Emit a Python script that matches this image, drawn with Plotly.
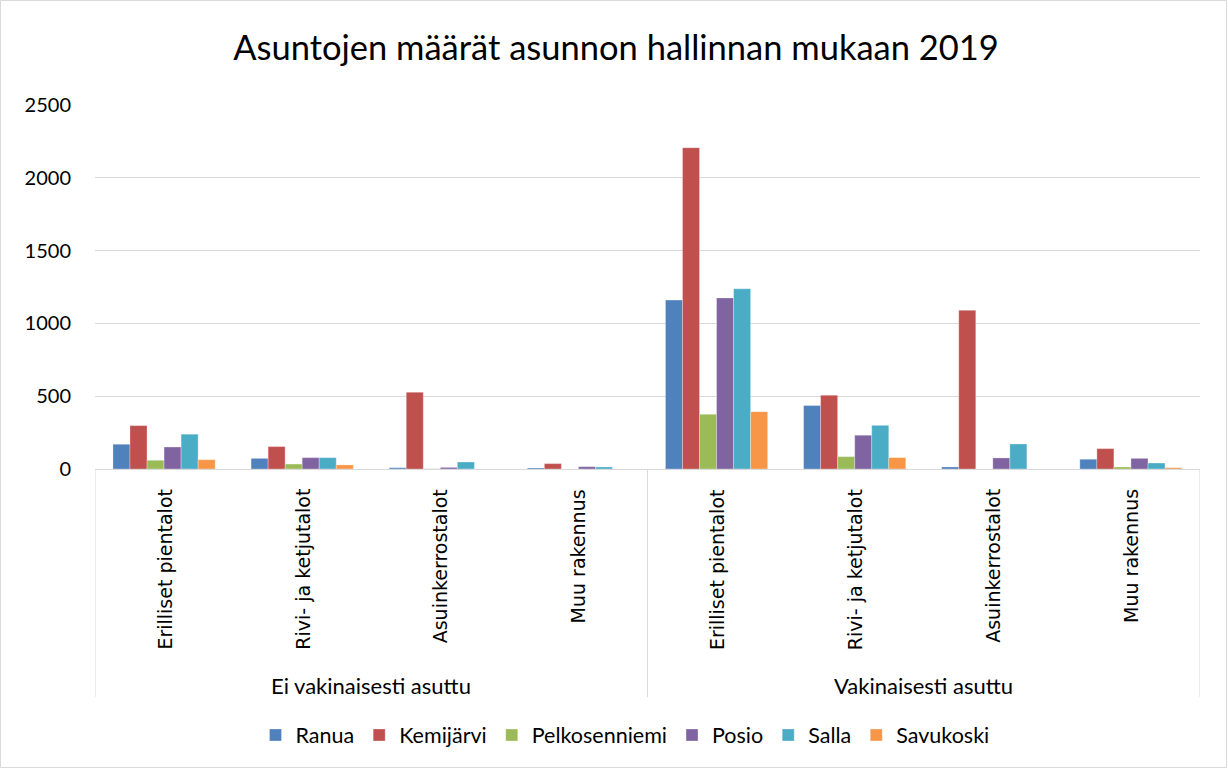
import plotly.graph_objects as go

groups = ["Ei vakinaisesti asuttu", "Vakinaisesti asuttu"]
building_types = ["Erilliset pientalot", "Rivi- ja ketjutalot", "Asuinkerrostalot", "Muu rakennus"]

ranua = [170, 73, 9, 7, 1160, 436, 14, 67]
kemijarvi = [298, 154, 527, 37, 2207, 507, 1090, 140]
pelkosenniemi = [60, 34, 2, 0, 376, 85, 0, 14]
posio = [151, 78, 11, 16, 1175, 232, 76, 73]
salla = [239, 78, 48, 14, 1238, 300, 172, 41]
savukoski = [64, 28, 0, 0, 394, 78, 0, 9]

series_names = ["Ranua", "Kemijärvi", "Pelkosenniemi", "Posio", "Salla", "Savukoski"]
series_values = [ranua, kemijarvi, pelkosenniemi, posio, salla, savukoski]
colors = ["#4F81BD", "#C0504D", "#9BBB59", "#8064A2", "#4BACC6", "#F79646"]

y_ticks = [0, 500, 1000, 1500, 2000, 2500]

categories = [(g, b) for g in groups for b in building_types]
xpos = list(range(len(categories)))

fig = go.Figure()
for name, vals, col in zip(series_names, series_values, colors):
    fig.add_trace(go.Bar(x=xpos, y=vals, name=name,
                         marker=dict(color=col, line=dict(color="rgba(255,255,255,0.6)", width=0.5))))

W, H = 1228, 769
L, R, T, B = 95, 28, 105, 300
plot_h = H - T - B
plot_w = W - L - R

def py(pix):
    return (H - B - pix) / plot_h

def px(pix):
    return (pix - L) / plot_w

annotations = []
for i, (g, b) in enumerate(categories):
    annotations.append(dict(x=i, xref="x", y=py(487), yref="paper", text=b, textangle=-90,
                            showarrow=False, xanchor="center", yanchor="top",
                            font=dict(family="DejaVu Sans", size=19, color="#000000")))
nb = len(building_types)
for gi, g in enumerate(groups):
    center = gi * nb + (nb - 1) / 2
    annotations.append(dict(x=center, xref="x", y=py(685), yref="paper", text=g,
                            showarrow=False, xanchor="center", yanchor="middle",
                            font=dict(family="Lato", size=22, color="#000000")))

shapes = []
for k in range(len(groups) + 1):
    xv = k * nb - 0.5
    shapes.append(dict(type="line", xref="x", yref="paper", x0=xv, x1=xv, y0=0, y1=py(697),
                       line=dict(color="#d9d9d9", width=1)))
shapes.append(dict(type="rect", xref="paper", yref="paper", x0=px(0.5), x1=px(W - 1.5),
                   y0=py(H - 1.5), y1=py(0.5), line=dict(color="#d9d9d9", width=1)))

fig.update_layout(
    width=W, height=H,
    margin=dict(l=L, r=R, t=T, b=B, autoexpand=False),
    paper_bgcolor="white", plot_bgcolor="white",
    title=dict(text="Asuntojen määrät asunnon hallinnan mukaan 2019", x=px(616), xref="paper",
               xanchor="center", y=1 - 48 / H, yanchor="middle",
               font=dict(family="Lato", size=34.5, color="#000000")),
    barmode="group", bargap=0.26, bargroupgap=0,
    xaxis=dict(range=[-0.5, len(categories) - 0.5], showticklabels=False, showgrid=False,
               zeroline=False, showline=False, ticks=""),
    yaxis=dict(range=[0, 2500], tickvals=y_ticks, showgrid=True, gridcolor="#d9d9d9", gridwidth=1,
               zeroline=True, zerolinecolor="#d9d9d9", zerolinewidth=1, showline=False,
               tickfont=dict(family="Lato", size=20, color="#000000"), ticklabelstandoff=23),
    legend=dict(orientation="h", x=px(625), xanchor="center", y=py(735), yanchor="middle",
                font=dict(family="Lato", size=21.5, color="#000000"), itemwidth=30,
                traceorder="normal", itemclick=False),
    annotations=annotations, shapes=shapes,
    showlegend=True,
)

fig.write_html("out.html", config={"displayModeBar": False},
               post_script="document.body.style.margin='0';document.body.style.padding='0';")
